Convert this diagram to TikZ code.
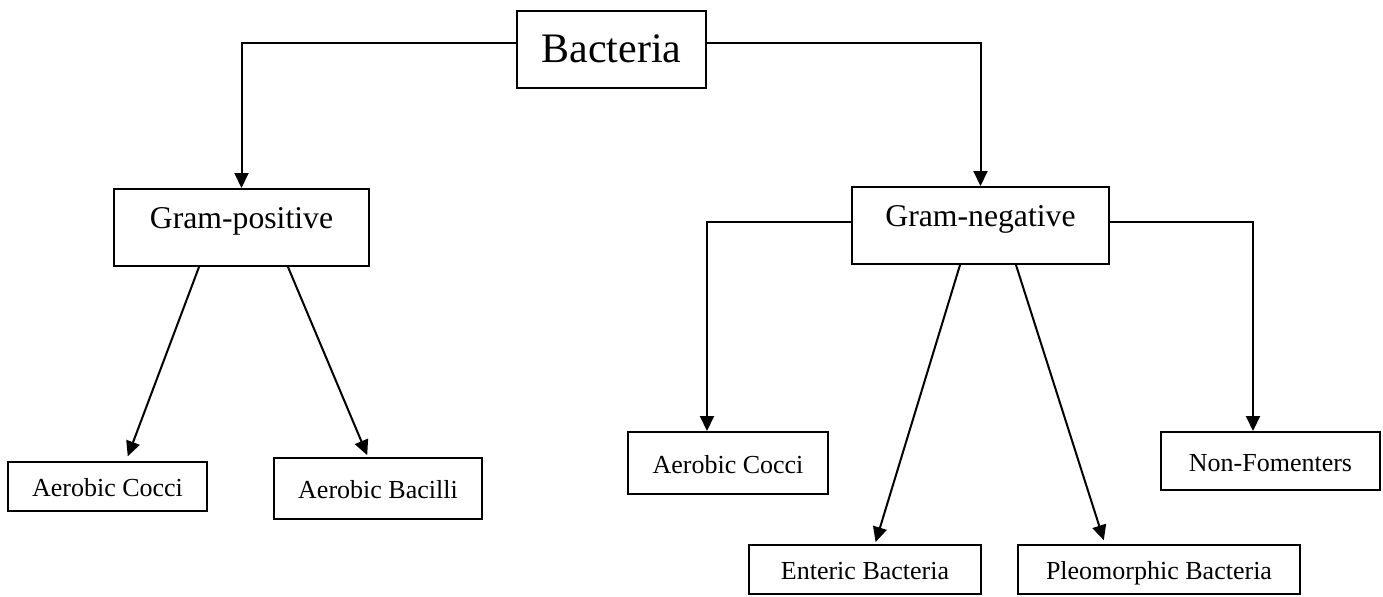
\documentclass[tikz,border=0pt]{standalone}
\usepackage{fontspec}
\setmainfont{Liberation Serif}
\usetikzlibrary{arrows.meta}
\usetikzlibrary{positioning}

\begin{document}
\begin{tikzpicture}[x=0.5pt, y=-0.5pt,
                box/.style={draw, line width=1pt, inner sep=0pt},
                root/.style={box, font=\fontsize{21}{25}\selectfont, text height=14pt, text depth=1.5pt},
                group/.style={box, minimum height=38.5pt, font=\fontsize{15.85}{19}\selectfont, text height=11pt, text depth=10pt},
                leaf/.style={box, font=\fontsize{13}{16}\selectfont, text height=10pt, text depth=0pt},
                arrow/.style={-{Triangle[length=7.5pt, width=7pt]}, line width=1pt},
            ]
            \useasboundingbox (0,0) rectangle (1383,596);

            \node[root, minimum width=94.5pt, minimum height=38.5pt] (bacteria) at (611.5,49.5) {Bacteria};
            \node[group, minimum width=127.5pt] (gram_pos) at (241.5,227.5) {Gram-positive};
            \node[group, minimum width=128.5pt] (gram_neg) at (980.5,225.5) {Gram-negative};

            \node[leaf, minimum width=99.5pt, minimum height=24.5pt] (pos_cocci) at (107.5,486.5) {Aerobic Cocci};
            \node[leaf, minimum width=104pt, minimum height=30.5pt] (pos_bacilli) at (378,488.5) {Aerobic Bacilli};
            \node[leaf, minimum width=100pt, minimum height=31pt] (neg_cocci) at (728,463) {Aerobic Cocci};
            \node[leaf, minimum width=109.5pt, minimum height=29pt] (non_ferm) at (1270.5,461) {Non-Fomenters};
            \node[leaf, minimum width=116pt, minimum height=24.5pt] (enteric) at (865,569.5) {Enteric Bacteria};
            \node[leaf, minimum width=141pt, minimum height=24.5pt] (pleo) at (1159,569.5) {Pleomorphic Bacteria};

            \draw[arrow] ([yshift=3.25pt]bacteria.west) -| (gram_pos.north);
            \draw[arrow] ([yshift=3.25pt]bacteria.east) -| (gram_neg.north);

            \draw[arrow, shorten >=2.5pt] ([xshift=-21.25pt]gram_pos.south) -- ([xshift=9.25pt]pos_cocci.north);
            \draw[arrow, shorten >=1pt] ([xshift=23.25pt]gram_pos.south) -- ([xshift=-5pt]pos_bacilli.north);

            \draw[arrow] ([yshift=1.75pt]gram_neg.west) -| ([xshift=-10.5pt]neg_cocci.north);
            \draw[arrow] ([yshift=1.75pt]gram_neg.east) -| ([xshift=-8.75pt]non_ferm.north);
            \draw[arrow, shorten >=1pt] ([xshift=-10.25pt]gram_neg.south) -- ([xshift=5pt]enteric.north);
            \draw[arrow, shorten >=2pt] ([xshift=17.75pt]gram_neg.south) -- ([xshift=-27pt]pleo.north);
        \end{tikzpicture}
\end{document}
